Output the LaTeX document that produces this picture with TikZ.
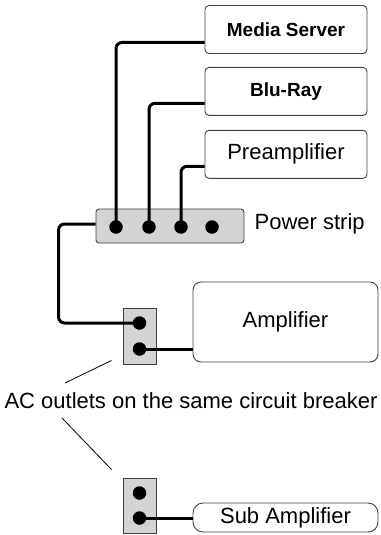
\documentclass[tikz,border=0pt]{standalone}
\usepackage{fontspec}
\setmainfont{Liberation Sans}
\usepackage{tikz}
\usetikzlibrary{positioning,calc}

\begin{document}
\begin{tikzpicture}[
    x=1pt, y=-1pt,
    node distance=13pt and 10pt,
    device/.style={draw=black!75, line width=0.9pt, rounded corners=4pt, fill=white, minimum width=162pt, minimum height=48pt, inner sep=0pt, font=\fontsize{22}{25}\selectfont},
    srcbold/.style={device, font=\fontsize{19}{22}\selectfont\bfseries},
    amp/.style={device, rounded corners=8pt, minimum width=185pt},
    outlet/.style={draw=black!75, line width=0.9pt, fill=black!17, minimum width=33pt, inner sep=0pt},
    dot/.style={circle, fill=black, minimum size=13.5pt, inner sep=0pt},
    wire/.style={line width=3pt, rounded corners=6pt},
    leader/.style={line width=0.8pt},
    lbl/.style={inner sep=0pt, font=\fontsize{22}{25}\selectfont},
]
\useasboundingbox (0,0) rectangle (380,535);

% Sources
\node[srcbold] (media) at (286,29.5) {Media Server};
\node[srcbold, below=of media] (bluray) {Blu-Ray};
\node[device, below=14pt of bluray] (preamp) {Preamplifier};

% Power strip
\node[outlet, rounded corners=3pt, minimum width=148pt, minimum height=34pt] (strip) at (170,226) {};
\node[lbl, right=10pt of strip, yshift=2pt] (striplbl) {Power strip};
\foreach \i/\x in {1/116,2/149,3/181,4/212}
    \coordinate (s\i) at (\x,227);

% Wall outlets
\node[outlet, minimum height=56pt] (wall1) at (139.5,336) {};
\node[outlet, minimum height=55pt] (wall2) at (139.5,505.5) {};
\coordinate (w1a) at ($(wall1.center)+(0,-13)$);
\coordinate (w1b) at ($(wall1.center)+(0,13)$);
\coordinate (w2a) at ($(wall2.center)+(0,-12.5)$);
\coordinate (w2b) at ($(wall2.center)+(0,12.5)$);

% Amplifiers
\node[amp, minimum height=80pt] (amp) at (285.5,322) {Amplifier};
\node[amp, rounded corners=10pt, minimum height=29pt] (subamp) at (285.5,517.5) {Sub Amplifier};

% Label
\node[lbl] (ac) at (191,401) {AC outlets on the same circuit breaker};

% Wires
\draw[wire] ([yshift=-13pt]media.west) -| (s1);
\draw[wire] ([yshift=-12pt]bluray.west) -| (s2);
\draw[wire] ([yshift=-12pt]preamp.west) -| (s3);
\draw[wire] ([yshift=2pt]strip.west) -- ++(-37,0) |- (w1a);
\draw[wire] (w1b) -- (amp.west |- w1b);
\draw[wire] (w2b) -- (subamp.west |- w2b);

% Sockets
\foreach \p in {s1,s2,s3,s4,w1a,w1b,w2a,w2b}
    \node[dot] at (\p) {};

% Leaders
\draw[leader] ([shift={(-126,-18)}]ac.center) -- ([shift={(-11,-4)}]wall1.south west);
\draw[leader] ([shift={(-129,17)}]ac.center) -- ([shift={(-11,-8)}]wall2.north west);
\end{tikzpicture}
\end{document}
